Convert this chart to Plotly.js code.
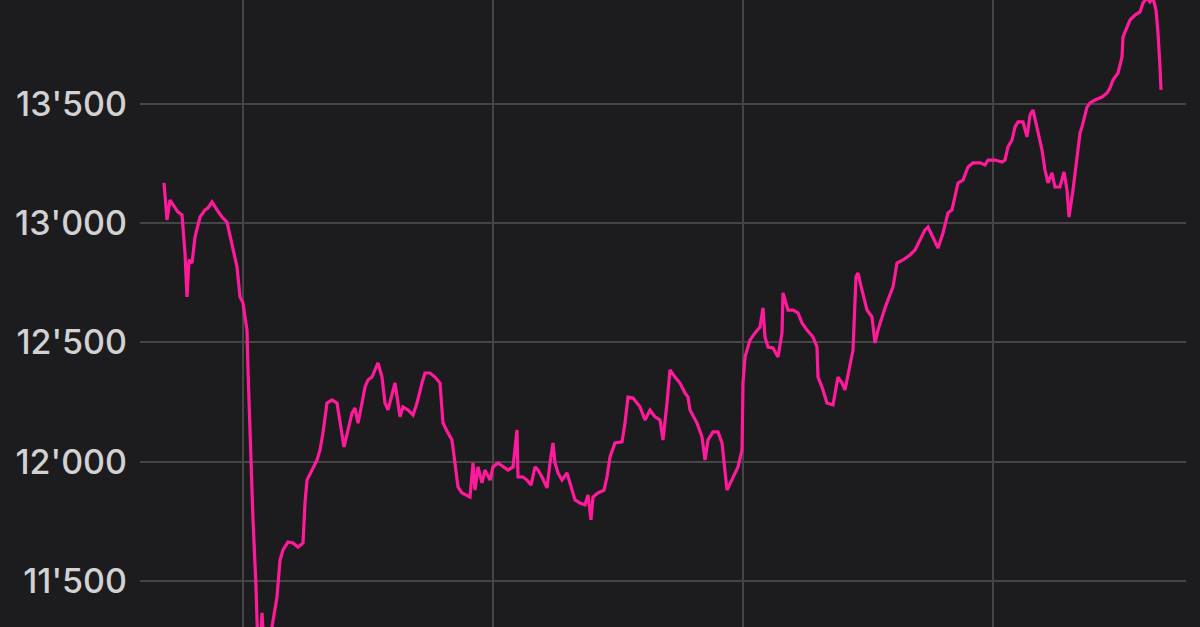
<!DOCTYPE html>
<html>
<head>
<meta charset="utf-8">
<script src="https://cdn.plot.ly/plotly-3.0.1.min.js"></script>
<style>
  html, body { margin: 0; padding: 0; background: #1c1c1e; }
  #chart { width: 1200px; height: 627px; }
</style>
</head>
<body>
<div id="chart"></div>
<script>
// Time position (arbitrary day-like units) and index level
const xDays = [
  68.4, 69.6, 70.8, 72.8, 74.0, 75.6, 76.8, 77.6, 78.4, 79.6,
  80.8, 82.8, 84.8, 86.0, 87.6, 89.6, 91.6, 93.6, 95.6, 97.6,
  98.8, 100.0, 100.8, 101.6, 102.0, 102.8, 104.0, 105.2, 106.0, 106.8,
  107.6, 108.4, 109.6, 110.8, 111.6, 113.6, 114.8, 116.0, 118.0, 120.0,
  122.0, 124.0, 124.8, 125.6, 127.6, 129.6, 130.8, 132.0, 133.6, 135.6,
  137.6, 138.8, 140.4, 142.0, 143.6, 144.8, 146.0, 147.6, 148.8, 150.0,
  151.6, 152.8, 154.0, 155.6, 156.8, 158.0, 159.6, 160.8, 162.0, 162.8,
  164.0, 166.0, 168.0, 169.6, 171.6, 172.8, 174.8, 176.8, 178.8, 180.0,
  182.0, 183.6, 186.0, 187.6, 190.8, 191.6, 192.0, 192.8, 194.0, 195.6,
  196.8, 198.8, 200.0, 202.0, 204.0, 206.0, 208.0, 209.6, 210.0, 212.0,
  213.6, 215.2, 216.8, 218.0, 219.6, 221.6, 222.8, 224.0, 224.8, 226.0,
  227.6, 229.6, 230.8, 232.8, 234.8, 236.8, 238.0, 239.2, 240.0, 242.0,
  244.4, 245.6, 246.8, 248.8, 251.6, 252.8, 254.0, 256.0, 258.8, 260.8,
  262.8, 264.8, 266.8, 268.0, 269.6, 270.8, 272.8, 274.8, 276.8, 278.0,
  278.8, 281.6, 283.6, 284.8, 286.0, 288.0, 290.0, 291.6, 293.6, 295.6,
  298.0, 299.6, 300.0, 300.8, 302.8, 304.8, 306.8, 308.0, 308.8, 310.0,
  312.0, 314.0, 315.6, 316.0, 318.0, 320.0, 322.0, 323.6, 325.6, 328.0,
  329.6, 330.0, 331.6, 333.6, 336.0, 338.0, 339.6, 340.8, 342.8, 344.0,
  345.2, 346.0, 347.6, 349.6, 351.6, 352.8, 354.0, 356.8, 360.0, 361.6,
  364.0, 366.8, 368.8, 370.8, 372.8, 374.0, 376.0, 378.0, 380.0, 382.0,
  383.6, 384.8, 386.0, 388.0, 390.0, 392.0, 394.8, 396.8, 398.0, 400.8,
  403.6, 404.8, 406.0, 407.6, 408.8, 410.0, 412.0, 413.6, 414.8, 416.0,
  417.6, 419.6, 420.8, 422.0, 423.6, 424.8, 426.8, 428.4, 429.6, 430.4,
  432.0, 433.6, 434.8, 435.6, 437.6, 438.8, 440.8, 443.6, 445.6, 446.8,
  448.0, 450.0, 451.6, 452.0, 453.6, 454.8, 456.8, 458.8, 460.0, 461.6,
  462.8, 464.0, 465.2, 466.0, 466.8, 467.2
];
const indexLevel = [
  13169, 13014, 13097, 13068, 13047, 13035, 12875, 12691, 12846, 12833,
  12942, 13026, 13056, 13064, 13089, 13056, 13026, 13005, 12917, 12817,
  12691, 12666, 12607, 12552, 12385, 12104, 11756, 11475, 11200, 11150,
  11366, 11220, 11160, 11230, 11307, 11433, 11588, 11630, 11663, 11659,
  11642, 11659, 11827, 11923, 11965, 12007, 12049, 12121, 12246, 12259,
  12246, 12162, 12062, 12133, 12204, 12225, 12162, 12246, 12313, 12343,
  12355, 12385, 12414, 12355, 12246, 12217, 12288, 12330, 12246, 12188,
  12230, 12217, 12196, 12246, 12330, 12372, 12372, 12355, 12330, 12162,
  12121, 12091, 11894, 11869, 11852, 11936, 11995, 11881, 11978, 11911,
  11965, 11923, 11978, 11995, 11978, 11965, 11978, 12133, 11936, 11936,
  11923, 11902, 11978, 11965, 11936, 11890, 11995, 12079, 11995, 11953,
  11923, 11953, 11911, 11840, 11827, 11819, 11861, 11756, 11852, 11869,
  11881, 11936, 12020, 12079, 12083, 12162, 12271, 12267, 12230, 12175,
  12217, 12188, 12175, 12091, 12246, 12385, 12355, 12330, 12288, 12271,
  12217, 12162, 12104, 12007, 12091, 12125, 12125, 12079, 11881, 11923,
  11978, 12049, 12330, 12439, 12510, 12540, 12565, 12645, 12523, 12481,
  12477, 12439, 12540, 12708, 12636, 12636, 12624, 12582, 12552, 12523,
  12481, 12355, 12313, 12246, 12238, 12355, 12330, 12301, 12414, 12468,
  12775, 12791, 12720, 12636, 12607, 12498, 12552, 12645, 12733, 12833,
  12846, 12867, 12888, 12930, 12972, 12984, 12942, 12896, 12959, 13043,
  13056, 13110, 13169, 13181, 13236, 13253, 13253, 13244, 13265, 13265,
  13257, 13265, 13320, 13349, 13404, 13425, 13425, 13362, 13454, 13475,
  13404, 13307, 13223, 13169, 13211, 13152, 13152, 13215, 13139, 13026,
  13139, 13278, 13378, 13404, 13487, 13504, 13517, 13529, 13546, 13567,
  13601, 13630, 13697, 13781, 13823, 13852, 13873, 13886, 13923, 13945,
  13928, 13945, 13894, 13798, 13655, 13559
];
const xGridVals = [100, 200, 300, 400];
const yTickVals = [11500, 12000, 12500, 13000, 13500];

const trace = {
  x: xDays,
  y: indexLevel,
  type: 'scatter',
  mode: 'lines',
  line: { color: '#ff1a9c', width: 3.2 },
  hoverinfo: 'skip'
};

const layout = {
  width: 1200,
  height: 627,
  paper_bgcolor: '#1c1c1e',
  plot_bgcolor: '#1c1c1e',
  margin: { l: 140, r: 14, t: 0, b: 0, pad: 0 },
  separators: ".'",
  showlegend: false,
  font: { family: 'Inter, "Open Sans", sans-serif', color: '#d2d2d2', size: 34 },
  xaxis: {
    range: [58.8, 477.2],
    tickvals: xGridVals,
    showticklabels: false,
    showgrid: true,
    gridcolor: '#454547',
    gridwidth: 2,
    zeroline: false,
    showline: false,
    ticks: ''
  },
  yaxis: {
    range: [11307, 13936],
    tickvals: yTickVals,
    tickformat: ',d',
    showgrid: true,
    gridcolor: '#454547',
    gridwidth: 2,
    zeroline: false,
    showline: false,
    ticks: '',
    ticklabelstandoff: 12,
    tickfont: { family: 'Inter, "Open Sans", sans-serif', color: '#d2d2d2', size: 34, weight: 500 }
  }
};

Plotly.newPlot('chart', [trace], layout, { staticPlot: true, displayModeBar: false });
</script>
</body>
</html>
